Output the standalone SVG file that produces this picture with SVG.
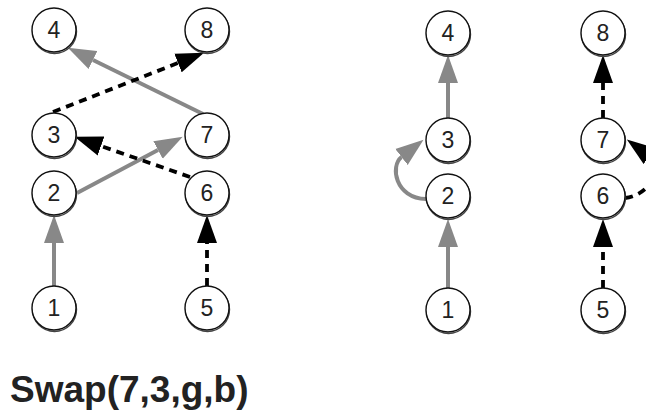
<svg xmlns="http://www.w3.org/2000/svg" width="646" height="412" viewBox="0 0 646 412">
  <style>
    .node circle.sh { fill: none; stroke: #444; stroke-width: 1.4; }
    .node circle.bd { fill: #fff; stroke: #111; stroke-width: 1.4; }
    .node text { font-family: "Liberation Sans", Arial, sans-serif; font-size: 23px; fill: #222; text-anchor: middle; }
    .g { fill: none; stroke: #888; stroke-width: 4; }
    .b { fill: none; stroke: #000; stroke-width: 3.8; stroke-dasharray: 8 6; }
    .title { font-family: "Liberation Sans", Arial, sans-serif; font-weight: bold; font-size: 37px; fill: #222; }
  </style>
  <defs>
    <marker id="ag" markerUnits="userSpaceOnUse" markerWidth="29" markerHeight="21" refX="0" refY="10.5" orient="auto" viewBox="0 0 29 21">
      <path d="M0,0.5 L28,10.5 L0,20.5 Z" fill="#888"/>
    </marker>
    <marker id="ab" markerUnits="userSpaceOnUse" markerWidth="29" markerHeight="21" refX="0" refY="10.5" orient="auto" viewBox="0 0 29 21">
      <path d="M0,0.5 L28,10.5 L0,20.5 Z" fill="#000"/>
    </marker>
  </defs>

  <g id="connectors">
    <!-- left graph -->
    <path class="g" d="M54,286 L54,243" marker-end="url(#ag)"/>
    <path class="b" d="M207,286 L207,243" marker-end="url(#ab)"/>
    <path class="g" d="M77,193 L158,150" marker-end="url(#ag)"/>
    <path class="b" d="M190,177 L101,146" marker-end="url(#ab)"/>
    <path class="g" d="M203,114 L93,60" marker-end="url(#ag)"/>
    <path class="b" d="M53,112 L178,63" marker-end="url(#ab)"/>
    <!-- right graph -->
    <path class="g" d="M448,288 L448,247" marker-end="url(#ag)"/>
    <path class="g" d="M448,118 L448,83" marker-end="url(#ag)"/>
    <path class="g" d="M426,199 C395,198 390,166 401.5,157" marker-end="url(#ag)"/>
    <path class="b" d="M603,288 L603,247" marker-end="url(#ab)"/>
    <path class="b" d="M603,118 L603,83" marker-end="url(#ab)"/>
    <path class="b" d="M625,198 C648,196 666,168 649.5,156" marker-end="url(#ab)"/>
  </g>

  <!-- left graph nodes -->
  <g id="L4" class="node"><circle class="sh" cx="54.5" cy="31.5" r="22"/><circle class="bd" cx="54" cy="30" r="22"/><text x="54" y="38">4</text></g>
  <g id="L8" class="node"><circle class="sh" cx="207.5" cy="31.5" r="22"/><circle class="bd" cx="207" cy="30" r="22"/><text x="207" y="38">8</text></g>
  <g id="L3" class="node"><circle class="sh" cx="54.5" cy="136.5" r="22"/><circle class="bd" cx="54" cy="135" r="22"/><text x="54" y="143">3</text></g>
  <g id="L7" class="node"><circle class="sh" cx="207.5" cy="136.5" r="22"/><circle class="bd" cx="207" cy="135" r="22"/><text x="207" y="143">7</text></g>
  <g id="L2" class="node"><circle class="sh" cx="54.5" cy="194.5" r="22"/><circle class="bd" cx="54" cy="193" r="22"/><text x="54" y="201">2</text></g>
  <g id="L6" class="node"><circle class="sh" cx="207.5" cy="194.5" r="22"/><circle class="bd" cx="207" cy="193" r="22"/><text x="207" y="201">6</text></g>
  <g id="L1" class="node"><circle class="sh" cx="54.5" cy="309.5" r="22"/><circle class="bd" cx="54" cy="308" r="22"/><text x="54" y="316">1</text></g>
  <g id="L5" class="node"><circle class="sh" cx="207.5" cy="309.5" r="22"/><circle class="bd" cx="207" cy="308" r="22"/><text x="207" y="316">5</text></g>

  <!-- right graph nodes -->
  <g id="R4" class="node"><circle class="sh" cx="448.5" cy="34.5" r="22"/><circle class="bd" cx="448" cy="33" r="22"/><text x="448" y="41">4</text></g>
  <g id="R8" class="node"><circle class="sh" cx="603.5" cy="34.5" r="22"/><circle class="bd" cx="603" cy="33" r="22"/><text x="603" y="41">8</text></g>
  <g id="R3" class="node"><circle class="sh" cx="448.5" cy="141.5" r="22"/><circle class="bd" cx="448" cy="140" r="22"/><text x="448" y="148">3</text></g>
  <g id="R7" class="node"><circle class="sh" cx="603.5" cy="141.5" r="22"/><circle class="bd" cx="603" cy="140" r="22"/><text x="603" y="148">7</text></g>
  <g id="R2" class="node"><circle class="sh" cx="448.5" cy="197.5" r="22"/><circle class="bd" cx="448" cy="196" r="22"/><text x="448" y="204">2</text></g>
  <g id="R6" class="node"><circle class="sh" cx="603.5" cy="197.5" r="22"/><circle class="bd" cx="603" cy="196" r="22"/><text x="603" y="204">6</text></g>
  <g id="R1" class="node"><circle class="sh" cx="448.5" cy="311.5" r="22"/><circle class="bd" cx="448" cy="310" r="22"/><text x="448" y="318">1</text></g>
  <g id="R5" class="node"><circle class="sh" cx="603.5" cy="311.5" r="22"/><circle class="bd" cx="603" cy="310" r="22"/><text x="603" y="318">5</text></g>

  <text class="title" x="10" y="402">Swap(7,3,g,b)</text>
</svg>
